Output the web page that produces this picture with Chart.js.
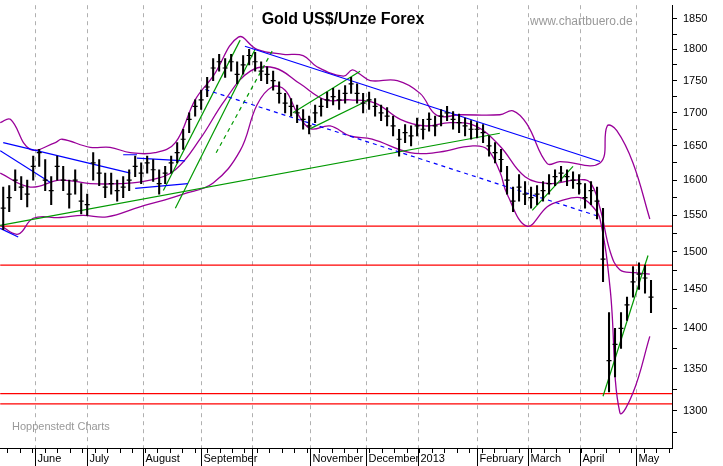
<!DOCTYPE html>
<html><head><meta charset="utf-8">
<script src="https://cdn.jsdelivr.net/npm/chart.js@4"></script>
<style>html,body{margin:0;padding:0;background:#fff}#w{width:723px;height:466px}</style>
</head><body><div id="w"><canvas id="c"></canvas></div>
<script>
const monthLabels=["June","July","August","September","","November","December","2013","February","March","April","May"];
const monthPos=[5.83,14.5,23.83,33.5,42,51.67,61,69.67,79.5,88,96.67,106];
const yTicks=[1300,1350,1400,1450,1500,1550,1600,1650,1700,1750,1800,1850];
const closes=[1560,1575,1600,1590,1580,1620,1640,1600,1585,1620,1600,1580,1600,1570,1565,1625,1610,1590,1595,1585,1590,1600,1620,1610,1625,1615,1595,1610,1625,1640,1660,1690,1710,1720,1740,1770,1780,1770,1780,1760,1775,1790,1780,1765,1760,1750,1730,1715,1710,1700,1690,1680,1700,1710,1720,1725,1720,1730,1745,1730,1715,1720,1710,1700,1695,1680,1660,1670,1665,1680,1675,1690,1680,1695,1700,1690,1685,1680,1675,1675,1670,1650,1640,1630,1600,1570,1590,1580,1575,1580,1585,1595,1605,1610,1605,1600,1595,1575,1585,1570,1490,1360,1380,1400,1430,1460,1470,1465,1440];
const highs=[1590,1592,1615,1605,1600,1635,1645,1630,1605,1635,1620,1600,1615,1595,1580,1640,1630,1610,1610,1600,1605,1615,1635,1625,1635,1630,1615,1620,1635,1655,1675,1700,1720,1735,1755,1785,1792,1785,1792,1780,1790,1800,1795,1780,1772,1765,1748,1730,1722,1712,1705,1695,1712,1722,1732,1738,1735,1742,1755,1745,1730,1732,1722,1712,1708,1695,1675,1682,1680,1692,1690,1700,1695,1705,1710,1702,1698,1692,1688,1685,1682,1665,1655,1645,1620,1590,1608,1598,1590,1592,1598,1608,1615,1620,1615,1612,1608,1595,1598,1590,1560,1420,1400,1420,1440,1480,1485,1482,1462];
const lows=[1530,1555,1585,1572,1562,1600,1620,1585,1565,1600,1585,1560,1580,1552,1550,1600,1592,1575,1580,1570,1575,1585,1605,1595,1610,1598,1580,1595,1610,1625,1645,1670,1695,1705,1725,1750,1765,1755,1765,1745,1760,1775,1765,1750,1745,1735,1715,1700,1695,1685,1675,1668,1685,1695,1708,1712,1705,1715,1730,1715,1700,1705,1695,1688,1680,1665,1635,1655,1650,1665,1660,1672,1665,1680,1688,1675,1670,1665,1660,1662,1655,1635,1625,1612,1580,1555,1570,1565,1560,1565,1570,1580,1592,1598,1592,1588,1580,1560,1565,1545,1460,1322,1340,1375,1410,1440,1450,1445,1420];
const upperX=[0,1.7,5,9.2,10.3,15,18.3,21.7,25.8,29.2,32.5,35.5,39.7,42.8,47.2,50.5,52.8,57.2,58.7,60,61.7,66.2,70,72.8,76.7,83.3,85.5,87.8,91.2,93.3,100,101.2,102.8,105.5,108.3];
const upperY=[1685,1690,1645,1655,1660,1648,1648,1640,1640,1655,1720,1757,1820,1800,1792,1790,1772,1757,1767,1760,1750,1750,1730,1696,1697,1697,1703,1683,1624,1627,1625,1680,1673,1625,1545];
const midX=[0,5,10,15,20,25,29.2,33.3,37.5,41.7,45.8,50,54.2,58.3,62.5,66.7,70.8,75,79.2,83.3,87.5,91.7,95.8,98.3,100,101.7,103.3,105.8,108.3];
const midY=[1610,1590,1600,1595,1595,1600,1615,1660,1720,1765,1770,1745,1720,1720,1715,1690,1680,1685,1680,1650,1605,1595,1600,1597,1560,1500,1476,1472,1470];
const lowerX=[0,3,5.5,10,13.8,17.8,23.3,26.7,30.5,35.5,40,42.8,45.3,47.5,49.5,51.7,55,58.3,62,68.3,72.5,78.8,81.2,83.3,84.5,87.8,91.2,93.3,96.7,98.8,100,101.7,103.3,105.5,108.3];
const lowerY=[1536,1524,1546,1547,1550,1548,1562,1570,1580,1596,1643,1712,1740,1735,1700,1676,1680,1665,1660,1640,1640,1650,1645,1612,1580,1535,1562,1570,1575,1562,1545,1450,1298,1321,1390];
const redLines=[1535,1482,1320,1308];

const seg=(x1,y1,x2,y2)=>[{x:x1,y:y1},{x:x2,y:y2}];
const trend=[
 {d:seg(0.5,1655,21.7,1610),c:'#0000ff'},
 {d:seg(0,1643,8.3,1597),c:'#0000ff'},
 {d:seg(0,1532,3,1520),c:'#0000ff'},
 {d:seg(20.5,1637,22.8,1637),c:'#0000ff'},
 {d:seg(22.8,1632,30.8,1628),c:'#0000ff'},
 {d:seg(22.5,1588,31.3,1595),c:'#0000ff'},
 {d:seg(40.8,1805,100,1627),c:'#0000ff'},
 {d:seg(34.2,1736,100,1548),c:'#0000ff',dash:[4,4]},
 {d:seg(0,1536,83.3,1669),c:'#009900'},
 {d:seg(27.2,1585,40,1815),c:'#009900'},
 {d:seg(29.2,1560,42.5,1800),c:'#009900'},
 {d:seg(36,1640,45.5,1800),c:'#009900',dash:[4,4]},
 {d:seg(48.8,1700,60,1765),c:'#009900'},
 {d:seg(51.7,1676,61.7,1721),c:'#009900'},
 {d:seg(88.7,1557,95.5,1620),c:'#009900'},
 {d:seg(100.5,1317,108,1495),c:'#009900'}
];
const ds=[];
redLines.forEach(v=>ds.push({type:'line',data:seg(0,v,112,v),borderColor:'#ff0000',borderWidth:1.3,pointRadius:0,order:5}));
[[upperX,upperY],[midX,midY],[lowerX,lowerY]].forEach(([xs,ys])=>ds.push({type:'line',data:xs.map((x,i)=>({x,y:ys[i]})),borderColor:'#990099',borderWidth:1.3,pointRadius:0,tension:0.4,order:4}));
trend.forEach(t=>ds.push({type:'line',data:t.d,borderColor:t.c,borderWidth:1.2,borderDash:t.dash||[],pointRadius:0,order:3}));
ds.push({type:'bar',data:closes.map((c,i)=>({x:i+0.5,y:[lows[i],highs[i]]})),backgroundColor:'#000',barThickness:1.4,order:1});
ds.push({type:'line',showLine:false,data:closes.map((c,i)=>({x:i+0.5,y:c})),pointStyle:'line',pointRadius:2.5,borderColor:'#000',borderWidth:1.2,order:0});
ds.forEach(d=>{d.xAxisID='x';d.yAxisID='y';d.clip={left:8,top:0,right:0,bottom:0};});

const deco={id:'deco',
 beforeDatasetsDraw(ch){const {ctx,chartArea:a,scales:{x}}=ch;ctx.save();ctx.strokeStyle='#b0b0b0';ctx.setLineDash([4,4]);ctx.lineWidth=1;
  monthPos.forEach(m=>{const p=Math.round(x.getPixelForValue(m))+0.5;ctx.beginPath();ctx.moveTo(p,a.top);ctx.lineTo(p,a.bottom);ctx.stroke();});ctx.restore();},
 afterDraw(ch){const {ctx,chartArea:a,scales:{x}}=ch;ctx.save();ctx.strokeStyle='#000';ctx.lineWidth=1;
  ctx.beginPath();ctx.moveTo(0,a.bottom+0.5);ctx.lineTo(a.right,a.bottom+0.5);ctx.stroke();
  ctx.fillStyle='#000';ctx.font='11px "Liberation Sans", Arial';ctx.textBaseline='middle';
  monthPos.forEach((m,i)=>{const p=Math.round(x.getPixelForValue(m))+0.5;ctx.beginPath();ctx.moveTo(p,a.bottom);ctx.lineTo(p,466);ctx.stroke();ctx.fillText(monthLabels[i],p+2,459);});
  for(let w=1.2;w<112;w+=2.08){const p=Math.round(x.getPixelForValue(w))+0.5;ctx.beginPath();ctx.moveTo(p,a.bottom);ctx.lineTo(p,a.bottom+5);ctx.stroke();}
  ctx.font='bold 16px "Liberation Sans", Arial';ctx.textAlign='center';ctx.fillText('Gold US$/Unze Forex',343,20);
  ctx.font='12px "Liberation Sans", Arial';ctx.fillStyle='#999';ctx.textAlign='left';ctx.fillText('www.chartbuero.de',530,22);
  ctx.font='11px "Liberation Sans", Arial';ctx.fillText('Hoppenstedt Charts',12,427);
  ctx.restore();}
};
const allY=[];for(let v=1275;v<=1875;v+=25)allY.push(v);
new Chart(document.getElementById('c'),{type:'line',
 data:{datasets:ds},
 options:{responsive:true,maintainAspectRatio:false,animation:false,layout:{padding:0},
  plugins:{legend:{display:false},tooltip:{enabled:false}},
  scales:{
   x:{type:'linear',min:0.83,max:112,offset:false,ticks:{display:false},grid:{display:false},border:{display:false},afterFit(s){s.height=18;}},
   y:{type:'logarithmic',position:'right',min:1257,max:1873,
    afterBuildTicks(s){s.ticks=allY.filter(v=>v>=1257&&v<=1873).map(v=>({value:v}));},
    ticks:{autoSkip:false,color:'#000',font:{size:11,family:'"Liberation Sans", Arial'},padding:6,callback:v=>yTicks.includes(v)?String(v):''},
    grid:{drawOnChartArea:false,color:'#000',tickLength:5},border:{color:'#000'},afterFit(s){s.width=51;s.paddingTop=0;s.paddingBottom=0;}}
  }},
 plugins:[deco]});
</script></body></html>
